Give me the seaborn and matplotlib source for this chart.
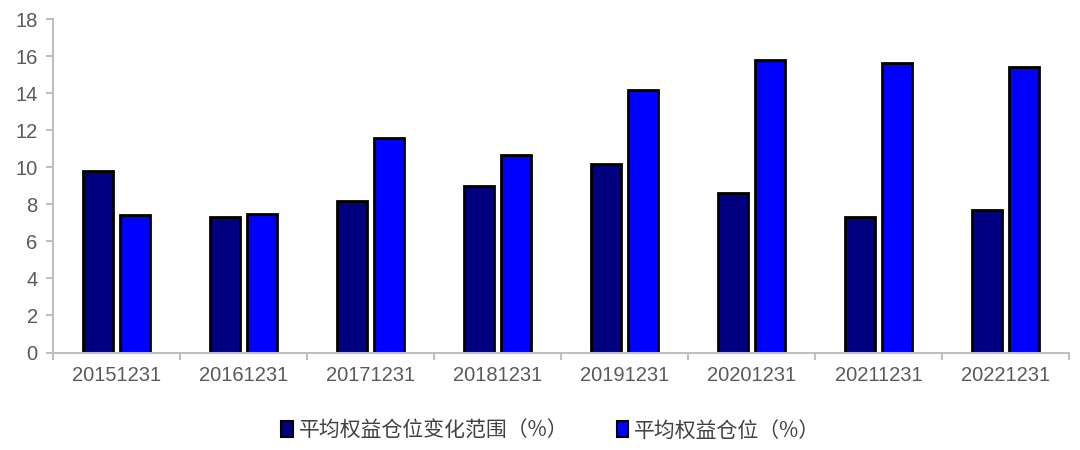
import matplotlib
matplotlib.use("Agg")
import matplotlib.pyplot as plt
import seaborn as sns
import pandas as pd
import numpy as np

categories = ["20151231", "20161231", "20171231", "20181231",
              "20191231", "20201231", "20211231", "20221231"]
range_vals = [9.8, 7.3, 8.15, 9.0, 10.2, 8.6, 7.3, 7.7]
position_vals = [7.4, 7.5, 11.6, 10.65, 14.15, 15.8, 15.65, 15.4]
series_names = ["平均权益仓位变化范围（%）", "平均权益仓位（%）"]
colors = ["#000080", "#0000FF"]

df = pd.DataFrame({
    "date": categories * 2,
    "value": range_vals + position_vals,
    "series": [series_names[0]] * len(categories) + [series_names[1]] * len(categories),
})

sns.set_theme(style="white")
plt.rcParams["font.family"] = ["Liberation Sans", "Noto Sans CJK SC", "DejaVu Sans"]

fig = plt.figure(figsize=(10.8, 4.5), dpi=100)
ax = fig.add_axes([53 / 1080, 1 - 352.5 / 450, (1069 - 53) / 1080, (352.5 - 19) / 450])

sns.barplot(data=df, x="date", y="value", hue="series", palette=colors,
            saturation=1, width=0.57, gap=0.17, edgecolor="black", linewidth=2,
            ax=ax, legend=True)

ax.set_xlim(-0.5, len(categories) - 0.5)
ax.set_ylim(0, 18)
ax.set_yticks(np.arange(0, 19, 2))
ax.set_xlabel("")
ax.set_ylabel("")

grey = "#BFBFBF"
for s in ["top", "right"]:
    ax.spines[s].set_visible(False)
for s in ["left", "bottom"]:
    ax.spines[s].set_color(grey)
    ax.spines[s].set_linewidth(1.5)

ax.tick_params(axis="y", colors="#595959", labelsize=14.5, length=5, width=1.5, color=grey, left=True, pad=6)
ax.tick_params(axis="x", colors="#595959", labelsize=14.5, length=0, pad=10)
ax.set_xticks(np.arange(-0.5, len(categories), 1.0), minor=True)
ax.tick_params(axis="x", which="minor", length=5, width=1.5, color=grey, bottom=True)
for lbl in ax.get_yticklabels() + ax.get_xticklabels():
    lbl.set_color("#595959")

leg = ax.legend(loc="upper center", bbox_to_anchor=(0.49, -0.145), ncol=2, frameon=False,
                prop={"family": ["Noto Sans CJK SC", "DejaVu Sans"], "size": 15},
                handlelength=0.55, handleheight=0.8, handletextpad=0.3,
                columnspacing=2.3)
for t in leg.get_texts():
    t.set_color("#404040")
for h in leg.legend_handles:
    h.set_edgecolor("black")
    h.set_linewidth(1.5)

fig.savefig("out.png", dpi=100)
